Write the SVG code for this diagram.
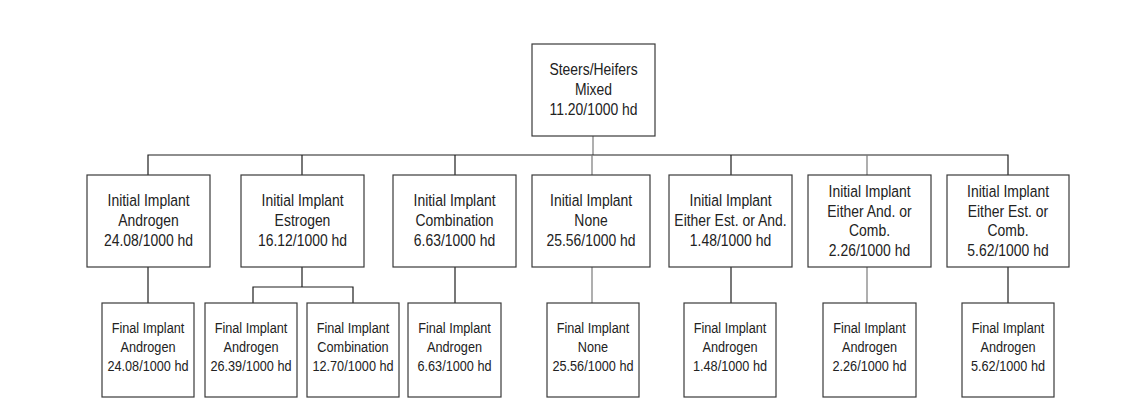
<svg xmlns="http://www.w3.org/2000/svg" width="1139" height="416" viewBox="0 0 1139 416">
<style>
  .box { fill: #ffffff; stroke: #3a3a3a; stroke-width: 1.2; }
  .c { fill: none; stroke: #1e1e1e; stroke-width: 1.2; }
  .cg { fill: none; stroke: #7a7a7a; stroke-width: 1.2; }
  text { font-family: "Liberation Sans", Arial, sans-serif; fill: #222222; text-anchor: middle; transform-box: fill-box; transform-origin: center; transform: scaleX(0.82); }
  .t2 { font-size: 17px; }
  .t3 { font-size: 15.5px; }
</style>
<rect width="1139" height="416" fill="#ffffff"/>
<g id="connectors">
  <path class="cg" d="M593,136 V155"/>
  <path class="c" d="M148,175 V155 H1008 V175"/>
  <path class="c" d="M302,155 V175 M455,155 V175 M731,155 V175"/>
  <path class="cg" d="M592,155 V175 M867,155 V175"/>
  <path class="c" d="M148,267 V303"/>
  <path class="c" d="M302,267 V287 M253,303 V287 H353 V303"/>
  <path class="c" d="M455,267 V303"/>
  <path class="cg" d="M592,267 V303"/>
  <path class="c" d="M731,267 V303"/>
  <path class="cg" d="M867,267 V303"/>
  <path class="c" d="M1008,267 V303"/>
</g>
<g id="root">
  <rect class="box" x="532" y="44" width="123" height="92"/>
  <text class="t2" x="593.5" y="75.5">Steers/Heifers</text>
  <text class="t2" x="593.5" y="95.5">Mixed</text>
  <text class="t2" x="593.5" y="115.5">11.20/1000 hd</text>
</g>
<g id="init-androgen">
  <rect class="box" x="87" y="175" width="123" height="92"/>
  <text class="t2" x="148.5" y="206.5">Initial Implant</text>
  <text class="t2" x="148.5" y="226.5">Androgen</text>
  <text class="t2" x="148.5" y="246.5">24.08/1000 hd</text>
</g>
<g id="init-estrogen">
  <rect class="box" x="241" y="175" width="123" height="92"/>
  <text class="t2" x="302.5" y="206.5">Initial Implant</text>
  <text class="t2" x="302.5" y="226.5">Estrogen</text>
  <text class="t2" x="302.5" y="246.5">16.12/1000 hd</text>
</g>
<g id="init-combination">
  <rect class="box" x="393" y="175" width="123" height="92"/>
  <text class="t2" x="454.5" y="206.5">Initial Implant</text>
  <text class="t2" x="454.5" y="226.5">Combination</text>
  <text class="t2" x="454.5" y="246.5">6.63/1000 hd</text>
</g>
<g id="init-none">
  <rect class="box" x="532" y="175" width="118" height="92"/>
  <text class="t2" x="591" y="206.5">Initial Implant</text>
  <text class="t2" x="591" y="226.5">None</text>
  <text class="t2" x="591" y="246.5">25.56/1000 hd</text>
</g>
<g id="init-est-or-and">
  <rect class="box" x="669" y="175" width="123" height="92"/>
  <text class="t2" x="730.5" y="206.5">Initial Implant</text>
  <text class="t2" x="730.5" y="226.5">Either Est. or And.</text>
  <text class="t2" x="730.5" y="246.5">1.48/1000 hd</text>
</g>
<g id="init-and-or-comb">
  <rect class="box" x="808" y="175" width="123" height="92"/>
  <text class="t2" x="869.5" y="197.5">Initial Implant</text>
  <text class="t2" x="869.5" y="217">Either And. or</text>
  <text class="t2" x="869.5" y="236.5">Comb.</text>
  <text class="t2" x="869.5" y="256">2.26/1000 hd</text>
</g>
<g id="init-est-or-comb">
  <rect class="box" x="947" y="175" width="122" height="92"/>
  <text class="t2" x="1008" y="197.5">Initial Implant</text>
  <text class="t2" x="1008" y="217">Either Est. or</text>
  <text class="t2" x="1008" y="236.5">Comb.</text>
  <text class="t2" x="1008" y="256">5.62/1000 hd</text>
</g>
<g id="final-1">
  <rect class="box" x="102" y="303" width="92" height="94"/>
  <text class="t3" x="148" y="333.5">Final Implant</text>
  <text class="t3" x="148" y="352.5">Androgen</text>
  <text class="t3" x="148" y="371.5">24.08/1000 hd</text>
</g>
<g id="final-2">
  <rect class="box" x="205" y="303" width="92" height="94"/>
  <text class="t3" x="251" y="333.5">Final Implant</text>
  <text class="t3" x="251" y="352.5">Androgen</text>
  <text class="t3" x="251" y="371.5">26.39/1000 hd</text>
</g>
<g id="final-3">
  <rect class="box" x="307" y="303" width="92" height="94"/>
  <text class="t3" x="353" y="333.5">Final Implant</text>
  <text class="t3" x="353" y="352.5">Combination</text>
  <text class="t3" x="353" y="371.5">12.70/1000 hd</text>
</g>
<g id="final-4">
  <rect class="box" x="408" y="303" width="93" height="94"/>
  <text class="t3" x="454.5" y="333.5">Final Implant</text>
  <text class="t3" x="454.5" y="352.5">Androgen</text>
  <text class="t3" x="454.5" y="371.5">6.63/1000 hd</text>
</g>
<g id="final-5">
  <rect class="box" x="547" y="303" width="92" height="94"/>
  <text class="t3" x="593" y="333.5">Final Implant</text>
  <text class="t3" x="593" y="352.5">None</text>
  <text class="t3" x="593" y="371.5">25.56/1000 hd</text>
</g>
<g id="final-6">
  <rect class="box" x="684" y="303" width="92" height="94"/>
  <text class="t3" x="730" y="333.5">Final Implant</text>
  <text class="t3" x="730" y="352.5">Androgen</text>
  <text class="t3" x="730" y="371.5">1.48/1000 hd</text>
</g>
<g id="final-7">
  <rect class="box" x="823" y="303" width="93" height="94"/>
  <text class="t3" x="869.5" y="333.5">Final Implant</text>
  <text class="t3" x="869.5" y="352.5">Androgen</text>
  <text class="t3" x="869.5" y="371.5">2.26/1000 hd</text>
</g>
<g id="final-8">
  <rect class="box" x="962" y="303" width="92" height="94"/>
  <text class="t3" x="1008" y="333.5">Final Implant</text>
  <text class="t3" x="1008" y="352.5">Androgen</text>
  <text class="t3" x="1008" y="371.5">5.62/1000 hd</text>
</g>
</svg>
